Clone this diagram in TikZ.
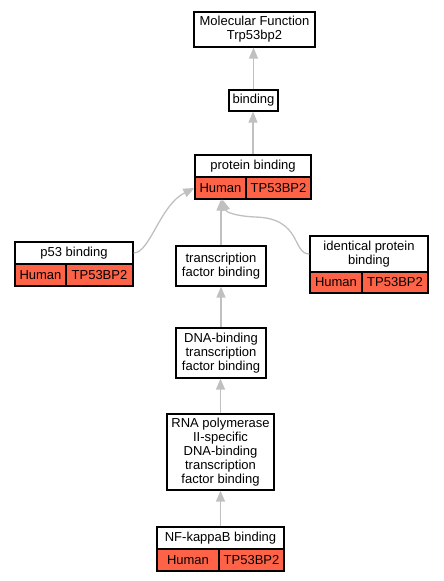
\documentclass[tikz,border=0pt]{standalone}
\usepackage{fontspec}
\setmainfont{Liberation Sans}
\usetikzlibrary{arrows.meta}
\definecolor{cellred}{HTML}{FF6347}
\definecolor{edgegray}{HTML}{C0C0C0}
\begin{document}
\begin{tikzpicture}[x=1pt,y=-1pt,
  box/.style={draw=black,line width=1.2pt,fill=white,inner sep=0pt,align=center,
    font=\fontsize{13}{14}\selectfont},
  redcell/.style={box,fill=cellred},
  isa/.style={draw=edgegray,line width=1.3pt,-{Triangle[length=11pt,width=9pt]}}]
\useasboundingbox (0,0) rectangle (444,581);
% nodes
\node[box,minimum width=121pt,minimum height=35pt] (mf) at (254.5,29.5) {Molecular Function\\Trp53bp2};
\node[box,minimum width=49pt,minimum height=21pt] (bind) at (253.5,100.5) {binding};
\node[box,minimum width=116pt,minimum height=22pt] (pb) at (253,166) {protein binding};
\node[redcell,minimum width=51pt,minimum height=22pt] (pbH) at (220.5,188) {Human};
\node[redcell,minimum width=65pt,minimum height=22pt] (pbT) at (278.5,188) {TP53BP2};
\node[box,minimum width=118pt,minimum height=22pt] (p53) at (74,253) {p53 binding};
\node[redcell,minimum width=51pt,minimum height=22pt] (p53H) at (40.5,275) {Human};
\node[redcell,minimum width=67pt,minimum height=22pt] (p53T) at (99.5,275) {TP53BP2};
\node[box,minimum width=90pt,minimum height=40pt] (tf) at (221,266) {transcription\\factor binding};
\node[box,minimum width=118pt,minimum height=36pt] (idt) at (369,254) {identical protein\\binding};
\node[redcell,minimum width=52pt,minimum height=21pt] (idtH) at (336,282.5) {Human};
\node[redcell,minimum width=66pt,minimum height=21pt] (idtT) at (395,282.5) {TP53BP2};
\node[box,minimum width=90pt,minimum height=50pt] (dna) at (221,353) {DNA-binding\\transcription\\factor binding};
\node[box,minimum width=107pt,minimum height=76pt] (rna) at (220.5,452) {RNA polymerase\\II-specific\\DNA-binding\\transcription\\factor binding};
\node[box,minimum width=127pt,minimum height=22pt] (nf) at (220.5,538) {NF-kappaB binding};
\node[redcell,minimum width=62pt,minimum height=22pt] (nfH) at (188,560) {Human};
\node[redcell,minimum width=65pt,minimum height=22pt] (nfT) at (251.5,560) {TP53BP2};
% edges
\draw[isa] (bind.north) -- (bind.north |- mf.south);
\draw[isa] (pb.north) -- (pb.north |- bind.south);
\draw[isa] (tf.north) -- (tf.north |- pbH.south);
\draw[isa] (dna.north) -- (tf.south);
\draw[isa] (rna.north) -- (rna.north |- dna.south);
\draw[isa] (nf.north) -- (nf.north |- rna.south);
\draw[isa] (p53.east) .. controls (150,253) and (160,205) .. (pbH.west);
\draw[isa] (idt.west) .. controls (292,254) and (302,218) .. (255,217)
  .. controls (235,216) and (226,212) .. ([xshift=2pt]pbH.south);
\end{tikzpicture}
\end{document}
